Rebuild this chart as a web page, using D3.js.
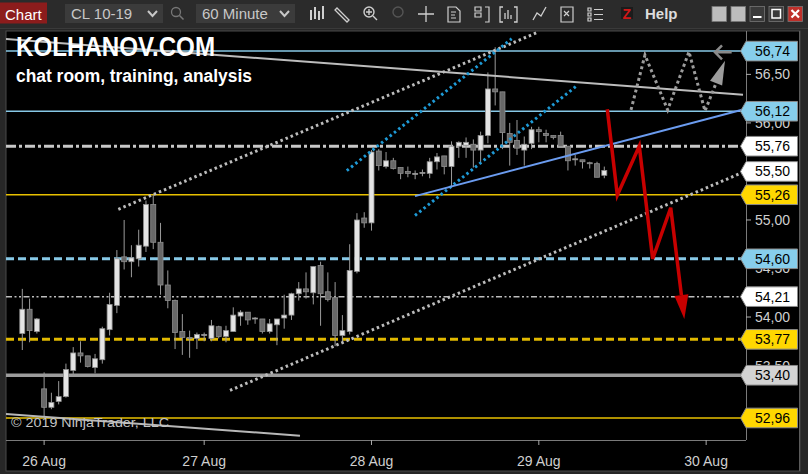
<!DOCTYPE html>
<html><head><meta charset="utf-8">
<script src="https://cdn.jsdelivr.net/npm/d3@7"></script>
<style>
body{margin:0;background:#262626;overflow:hidden}
svg{display:block}
text{font-family:"Liberation Sans",Arial,sans-serif}
</style>
</head><body>
<svg id="c" width="808" height="474"></svg>
<script>
// ---------- DATA ----------
const barOpen =[53.83,54.08,53.85,53.26,53.07,53.13,53.18,53.45,53.63,53.60,53.48,53.56,53.87,54.12,54.62,54.57,54.60,54.73,55.16,54.77,
54.33,54.17,53.85,53.79,53.78,53.82,53.78,53.90,53.80,53.85,54.01,54.05,53.99,53.98,53.85,53.92,53.99,54.02,54.24,54.29,
54.25,54.53,54.26,54.20,53.81,53.85,54.47,55.02,54.97,55.71,55.55,55.61,55.54,55.50,55.48,55.49,55.48,55.60,55.66,55.55,
55.76,55.77,55.78,55.72,55.87,56.35,56.32,55.89,55.82,55.72,55.79,55.93,55.89,55.87,55.87,55.76,55.63,55.62,55.59,55.58,55.46];
const barHigh =[54.29,54.19,53.99,53.43,53.22,53.34,53.52,53.69,53.75,53.60,53.62,53.90,54.25,54.69,55.00,54.74,54.90,55.20,55.26,54.97,
54.48,54.18,54.03,53.86,53.84,53.84,53.97,53.91,53.91,54.10,54.07,54.05,54.00,53.98,53.98,53.98,54.23,54.25,54.36,54.46,
54.52,54.57,54.46,54.36,54.02,54.75,55.07,55.08,55.72,55.73,55.70,55.64,55.54,55.55,55.51,55.52,55.64,55.69,55.66,55.81,
55.81,55.85,55.83,55.91,56.52,56.78,56.32,56.00,56.03,55.86,55.96,55.96,55.93,55.87,55.91,55.76,55.67,55.62,55.60,55.60,55.55];
const barLow  =[53.66,53.74,53.83,52.97,53.05,53.10,53.17,53.40,53.53,53.48,53.42,53.52,53.81,54.04,54.49,54.41,54.52,54.67,54.70,54.23,
54.09,53.67,53.61,53.58,53.67,53.75,53.75,53.78,53.74,53.85,53.91,53.92,53.93,53.83,53.83,53.71,53.88,53.97,54.17,54.19,
54.13,53.91,54.16,53.70,53.73,53.82,54.45,54.92,54.89,55.51,55.53,55.52,55.42,55.44,55.42,55.45,55.43,55.52,55.47,55.35,
55.64,55.64,55.54,55.59,55.79,56.18,55.73,55.56,55.67,55.56,55.73,55.80,55.80,55.83,55.76,55.51,55.56,55.53,55.53,55.44,55.43];
const barClose=[54.08,53.86,53.98,53.07,53.12,53.18,53.46,53.63,53.60,53.49,53.57,53.88,54.13,54.60,54.57,54.61,54.74,55.16,54.77,54.33,
54.17,53.84,53.79,53.78,53.82,53.82,53.91,53.80,53.86,54.02,54.05,53.97,53.99,53.85,53.93,53.98,54.02,54.24,54.29,54.26,
54.52,54.24,54.18,53.81,53.86,54.48,55.00,54.97,55.70,55.56,55.61,55.53,55.48,55.48,55.48,55.49,55.60,55.65,55.55,55.76,
55.80,55.80,55.72,55.87,56.35,56.32,55.90,55.80,55.74,55.78,55.93,55.91,55.87,55.85,55.76,55.61,55.63,55.60,55.58,55.44,55.51];

const dayLabels   =["26 Aug","27 Aug","28 Aug","29 Aug","30 Aug"];
const dayBarIndex =[3,25,48,71,94];
const priceTicks  =[53.0,53.5,54.0,54.5,55.0,55.5,56.0,56.5];

const levelPrices =[56.74,56.12,55.76,55.26,54.60,54.21,53.77,53.40,52.96];
const levelKinds  =["sky","sky","dashDot","gold","skyDash","dashDotDot","goldDash","grayBold","gold"];
const markerPrices=[56.74,56.12,55.76,55.50,55.26,54.60,54.21,53.77,53.40,52.96];
const markerKinds =["sky","sky","white","white","gold","sky","white","gold","gray","gold"];

// drawings: [barIndex, price]
const resistTop   =[[-2.24,56.864],[99.07,56.291]];
const resistBottom=[[-2.24,53.001],[38.17,52.777]];
const channelUpper=[[13.2,55.11],[70.93,56.936]];
const channelLower=[[28.55,53.244],[99.34,55.50]];
const blueDotUpper=[[44.6,55.508],[67.27,56.867]];
const blueDotLower=[[53.98,55.046],[76.2,56.382]];
const blueTrend   =[[53.98,55.246],[99.34,56.143]];
const redPath     =[[80.41,56.141],[81.79,55.256],[84.81,55.762],[86.65,54.599],[89.13,55.126],[91.0,53.98]];
const grayPath    =[[83.67,56.134],[85.59,56.699],[88.71,56.134],[91.64,56.733],[93.84,56.123],[96.59,56.64]];
const backArrow   =[[97.51,56.727],[95.22,56.727]];

// ---------- LAYOUT ----------
const svg=d3.select("#c");
const L=6,R=746,T=31,B=440;
const x=d3.scaleLinear().domain([-2,99.5]).range([7.75,746.16]);
const y=d3.scaleLinear().domain([52.733,56.947]).range([B,T]);
const fmt=v=>d3.format(".2f")(v).replace(".",",");

// page / frame
svg.append("rect").attr("width",808).attr("height",474).attr("fill","#272727");
svg.append("rect").attr("x",0).attr("y",0).attr("width",808).attr("height",28).attr("fill","#2b2b2b");
svg.append("line").attr("x1",0).attr("x2",808).attr("y1",28.5).attr("y2",28.5).attr("stroke","#3a3a3a");
svg.append("rect").attr("x",L).attr("y",T).attr("width",800-L).attr("height",471-T).attr("fill","#000").attr("stroke","#4a4a4a");

// toolbar
const tb=svg.append("g");
tb.append("rect").attr("x",0).attr("y",2.5).attr("width",47).attr("height",21).attr("fill","#8c1c1c");
tb.append("text").attr("x",5).attr("y",19.5).attr("fill","#fff").attr("font-size",15).text("Chart");
[[65,98,"CL 10-19"],[196,99,"60 Minute"]].forEach(([bx,bw,t])=>{
  tb.append("rect").attr("x",bx).attr("y",4).attr("width",bw).attr("height",19).attr("fill","#3b3b3b");
  tb.append("text").attr("x",bx+6).attr("y",19).attr("fill","#c8c8c8").attr("font-size",15).text(t);
  tb.append("path").attr("d",`M${bx+bw-15},11 l4.5,5 l4.5,-5`).attr("fill","none").attr("stroke","#c8c8c8").attr("stroke-width",2);
});
const ic="#cfcfcf";
// magnifier
tb.append("circle").attr("cx",176).attr("cy",12).attr("r",4.5).attr("fill","none").attr("stroke","#777").attr("stroke-width",1.3);
tb.append("line").attr("x1",179.5).attr("y1",15.5).attr("x2",183.5).attr("y2",19.5).attr("stroke","#777").attr("stroke-width",1.6);
// bars icon
[[311,10,20],[315,7,19],[319,11,20],[323,6,19]].forEach(([a,b,c])=>tb.append("line").attr("x1",a).attr("x2",a).attr("y1",b).attr("y2",c).attr("stroke",ic).attr("stroke-width",2));
// pencil
tb.append("path").attr("d","M337,8 l12,12 l-2,2 l-12,-12 z").attr("fill","none").attr("stroke",ic).attr("stroke-width",1.3);
// zoom-in
tb.append("circle").attr("cx",369).attr("cy",12).attr("r",5).attr("fill","none").attr("stroke",ic).attr("stroke-width",1.4);
tb.append("path").attr("d","M366,12 h6 M369,9 v6 M373,16 l4,4").attr("stroke",ic).attr("stroke-width",1.4);
tb.append("circle").attr("cx",398).attr("cy",12).attr("r",5).attr("fill","none").attr("stroke","#555").attr("stroke-width",1.4);
// crosshair
tb.append("path").attr("d","M426,6 v16 M418,14 h16").attr("stroke",ic).attr("stroke-width",1.3);
// other icons
tb.append("path").attr("d","M448,7 h8 l4,4 v11 h-12 z M451,12 h5 M451,15 h4 M451,18 h5").attr("fill","none").attr("stroke",ic).attr("stroke-width",1.2);
tb.append("path").attr("d","M475,7 h6 v4 h-6 z M475,13 h6 v4 h-6 z M485,7 h4 v15 h-4").attr("fill","none").attr("stroke",ic).attr("stroke-width",1.2);
tb.append("path").attr("d","M503,7 h-3 v15 h3 M514,7 h3 v15 h-3 M505,19 v-6 M508,19 v-9 M511,19 v-4").attr("fill","none").attr("stroke",ic).attr("stroke-width",1.3);
tb.append("path").attr("d","M533,20 l4,-7 l4,3 l5,-9").attr("fill","none").attr("stroke",ic).attr("stroke-width",1.3);
tb.append("path").attr("d","M561,7 h12 v15 h-12 z M564,11 l5,5 M569,11 l-5,5").attr("fill","none").attr("stroke",ic).attr("stroke-width",1.2);
tb.append("path").attr("d","M588,8 h3 v3 h-3 z M588,13 h3 v3 h-3 z M588,18 h3 v3 h-3 z M594,9.5 h9 M594,14.5 h9 M594,19.5 h9").attr("fill","none").attr("stroke",ic).attr("stroke-width",1.2);
tb.append("rect").attr("x",621).attr("y",7).attr("width",12).attr("height",12).attr("fill","#1b1b1b");
tb.append("text").attr("x",622.5).attr("y",18.5).attr("fill","#d01818").attr("font-size",14).attr("font-weight","bold").text("Z");
tb.append("text").attr("x",645).attr("y",19).attr("fill","#dcdcdc").attr("font-size",15).attr("font-weight","bold").text("Help");
[[712,"#bdbdbd"],[731,"#bdbdbd"],[750,"#3a3a3a"],[769,"#3a3a3a"],[788,"#c0302a"]].forEach(([bx,c],k)=>{
  tb.append("rect").attr("x",bx).attr("y",6.5).attr("width",14.5).attr("height",15).attr("fill",c).attr("stroke","#777").attr("stroke-width",0.8);
  if(k===2) tb.append("rect").attr("x",bx+3).attr("y",16).attr("width",8.5).attr("height",2).attr("fill","#fff");
  if(k===3) tb.append("rect").attr("x",bx+3).attr("y",9.5).attr("width",8.5).attr("height",8.5).attr("fill","none").attr("stroke","#fff").attr("stroke-width",1.5);
  if(k===4) tb.append("path").attr("d",`M${bx+3.5},10 l7.5,7.5 M${bx+11},10 l-7.5,7.5`).attr("stroke","#fff").attr("stroke-width",2.2);
});

// plot clip
svg.append("clipPath").attr("id","pc").append("rect").attr("x",L).attr("y",T).attr("width",R-L).attr("height",B-T);
const plot=svg.append("g").attr("clip-path","url(#pc)");

// horizontal levels
const levelStyle={
  sky:{c:"#87c8e6",w:1.5,d:null},
  gold:{c:"#e8c000",w:1.5,d:null},
  dashDot:{c:"#c8c8c8",w:3,d:"10,3,3,3"},
  skyDash:{c:"#87c8e6",w:3,d:"8,4"},
  dashDotDot:{c:"#bdbdbd",w:1.5,d:"6,2.5,2,2.5,2,2.5"},
  goldDash:{c:"#e0b800",w:3,d:"8,4"},
  grayBold:{c:"#9c9c9c",w:3.5,d:null}
};
levelPrices.forEach((p,i)=>{
  const s=levelStyle[levelKinds[i]];
  plot.append("line").attr("x1",L).attr("x2",R).attr("y1",y(p)).attr("y2",y(p))
    .attr("stroke",s.c).attr("stroke-width",s.w).attr("stroke-dasharray",s.d);
});

// candles
const bars=d3.range(barOpen.length);
plot.append("g").selectAll("line").data(bars).join("line")
  .attr("x1",i=>x(i)).attr("x2",i=>x(i)).attr("y1",i=>y(barHigh[i])).attr("y2",i=>y(barLow[i]))
  .attr("stroke","#9a9a9a").attr("stroke-width",1);
plot.append("g").selectAll("rect").data(bars).join("rect")
  .attr("x",i=>x(i)-2.5).attr("width",5)
  .attr("y",i=>y(Math.max(barOpen[i],barClose[i])))
  .attr("height",i=>Math.max(1,Math.abs(y(barOpen[i])-y(barClose[i]))))
  .attr("fill",i=>barClose[i]>=barOpen[i]?"#e4e4e4":"#686868")
  .attr("stroke","#8e8e8e").attr("stroke-width",0.8);

// drawings
const ln=d3.line().x(d=>x(d[0])).y(d=>y(d[1]));
function drawLine(pts,c,w,dash){plot.append("path").attr("d",ln(pts)).attr("fill","none").attr("stroke",c).attr("stroke-width",w).attr("stroke-dasharray",dash||null);}
drawLine(resistTop,"#bdbdbd",2);
drawLine(resistBottom,"#b8b8b8",2);
drawLine(channelUpper,"#bcbcbc",3,"2.5,3");
drawLine(channelLower,"#bcbcbc",3,"2.5,3");
drawLine(blueDotUpper,"#1e9ad6",3,"2.5,3");
drawLine(blueDotLower,"#1e9ad6",3,"2.5,3");
drawLine(blueTrend,"#6b9cf0",2);

function arrowPath(pts,c,w,dash,len,hw){
  const px=pts.map(d=>[x(d[0]),y(d[1])]);
  const tip=px[px.length-1], prev=px[px.length-2];
  const dx=tip[0]-prev[0], dy=tip[1]-prev[1], m=Math.hypot(dx,dy), ux=dx/m, uy=dy/m;
  const base=[tip[0]-ux*len, tip[1]-uy*len];
  const body=px.slice(0,-1).concat([base]);
  plot.append("path").attr("d",d3.line()(body)).attr("fill","none").attr("stroke",c)
    .attr("stroke-width",w).attr("stroke-dasharray",dash||null).attr("stroke-linejoin","miter");
  plot.append("path").attr("d",d3.line()([tip,[base[0]-uy*hw,base[1]+ux*hw],[base[0]+uy*hw,base[1]-ux*hw]])+"Z").attr("fill",c);
}
arrowPath(grayPath,"#9c9c9c",3,"3,3",24,6.5);
arrowPath(redPath,"#c80000",3.5,null,24,7);

// back arrow "<"
(function(){
  const a=[x(backArrow[0][0]),y(backArrow[0][1])], b=[x(backArrow[1][0]),y(backArrow[1][1])];
  plot.append("path").attr("d",`M${a[0]},${a[1]} L${b[0]},${b[1]} M${b[0]+7},${b[1]-7} L${b[0]},${b[1]} L${b[0]+7},${b[1]+7}`)
    .attr("fill","none").attr("stroke","#8a8a8a").attr("stroke-width",2.5);
})();

// texts on chart
svg.append("text").attr("x",16).attr("y",56).attr("fill","#fff").attr("font-size",27).attr("font-weight","bold")
  .attr("textLength",199).attr("lengthAdjust","spacingAndGlyphs").text("KOLHANOV.COM");
svg.append("text").attr("x",16).attr("y",82).attr("fill","#fff").attr("font-size",18).attr("font-weight","bold")
  .attr("textLength",236).attr("lengthAdjust","spacingAndGlyphs").text("chat room, training, analysis");
svg.append("text").attr("x",11).attr("y",427).attr("fill","#c4c4c4").attr("font-size",13)
  .attr("textLength",158).attr("lengthAdjust","spacingAndGlyphs").text("© 2019 NinjaTrader, LLC");

// axes frame lines
svg.append("line").attr("x1",R+0.5).attr("x2",R+0.5).attr("y1",T).attr("y2",B).attr("stroke","#7a7a7a");
svg.append("line").attr("x1",L).attr("x2",R).attr("y1",B+0.5).attr("y2",B+0.5).attr("stroke","#7a7a7a");
svg.append("line").attr("x1",799.5).attr("x2",799.5).attr("y1",T).attr("y2",471).attr("stroke","#5a5a5a");

// right axis ticks
const ra=svg.append("g");
priceTicks.forEach(p=>{
  ra.append("line").attr("x1",R).attr("x2",R+5).attr("y1",y(p)).attr("y2",y(p)).attr("stroke","#aaa");
  ra.append("text").attr("x",755).attr("y",y(p)+5).attr("fill","#cfcfcf").attr("font-size",14).text(fmt(p));
});
// markers
const markerFill={sky:"#87ceeb",white:"#ffffff",gold:"#ffd700",gray:"#d3d3d3"};
markerPrices.forEach((p,i)=>{
  const cy=y(p), h=9.8;
  ra.append("path").attr("d",`M740.5,${cy} L746,${cy-h} L797.5,${cy-h} L797.5,${cy+h} L746,${cy+h} Z`)
    .attr("fill",markerFill[markerKinds[i]]).attr("stroke","#8a8a8a").attr("stroke-width",1);
  ra.append("text").attr("x",755).attr("y",cy+5).attr("fill","#000").attr("font-size",14).text(fmt(p));
});

// bottom axis
const ba=svg.append("g");
dayBarIndex.forEach((bi,k)=>{
  ba.append("line").attr("x1",x(bi)).attr("x2",x(bi)).attr("y1",B).attr("y2",B+5).attr("stroke","#aaa");
  ba.append("text").attr("x",x(bi)).attr("y",466).attr("text-anchor","middle").attr("fill","#cfcfcf").attr("font-size",14).text(dayLabels[k]);
});
</script>
</body></html>
